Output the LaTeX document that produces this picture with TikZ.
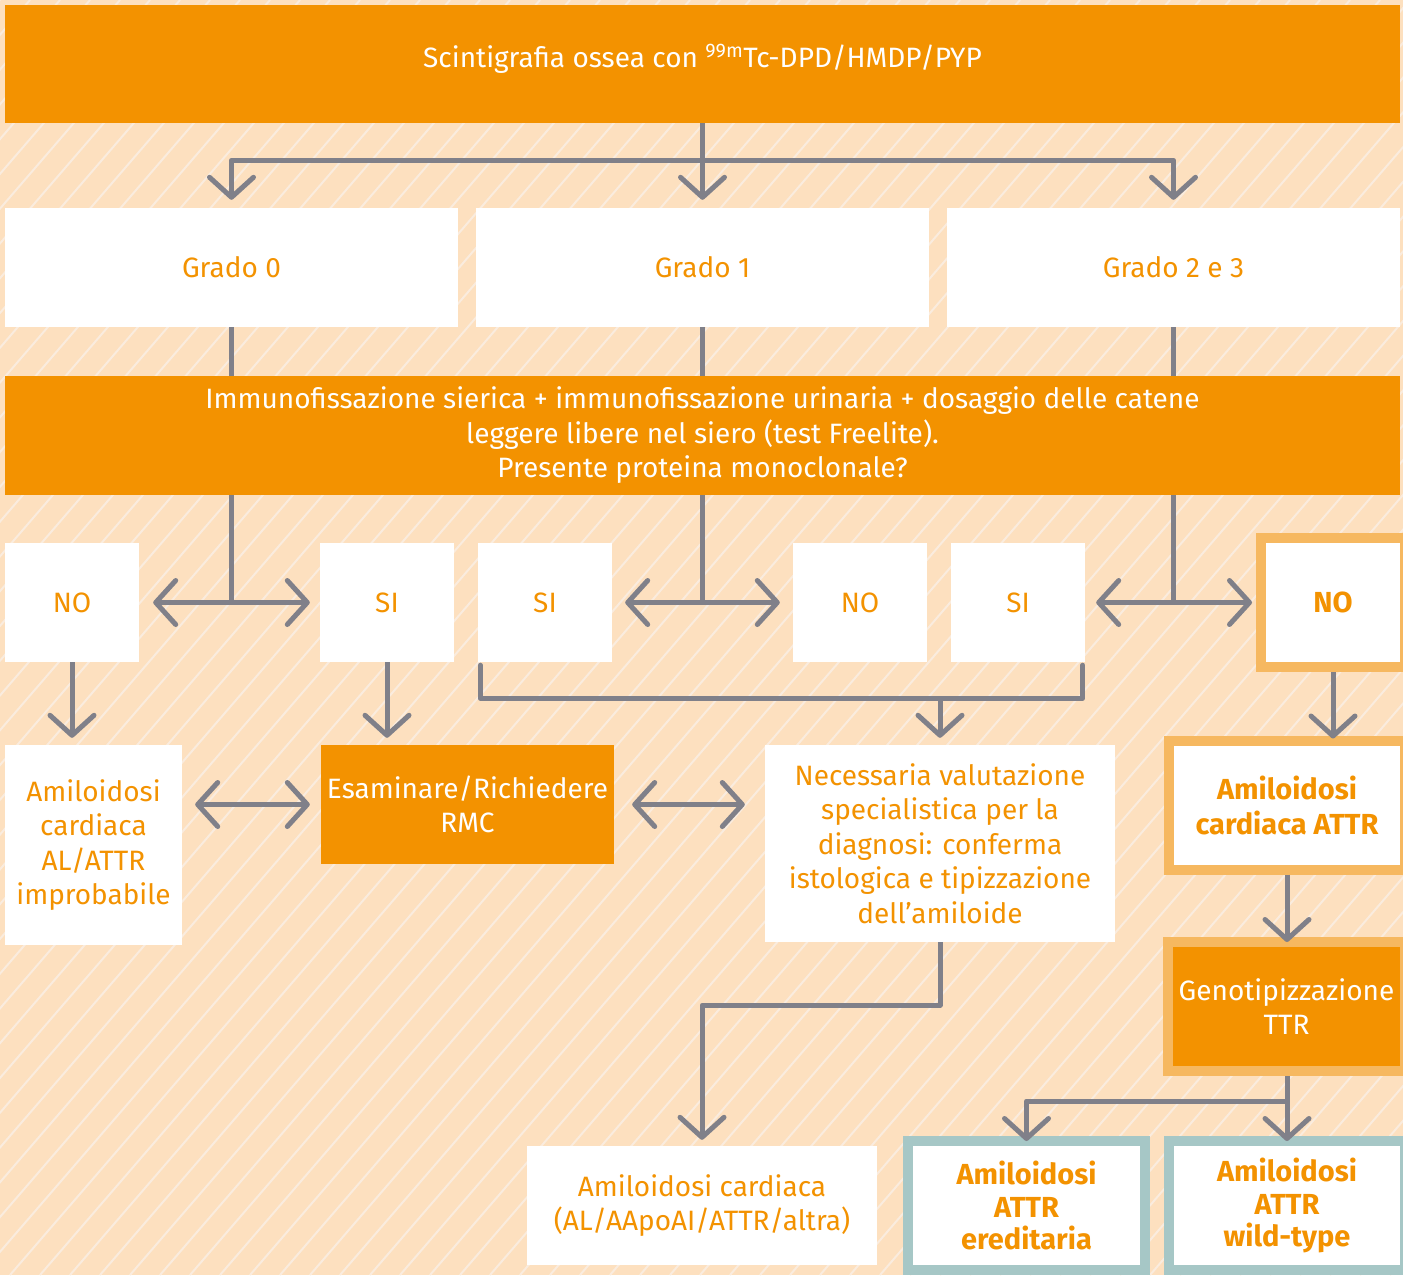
\documentclass[tikz,border=0pt]{standalone}
\usepackage{fontspec}
\setmainfont{Fira Sans}
\usepackage{tikz}
\newcommand{\rowheight}{119pt}
\newcommand{\ringheight}{129pt}
\definecolor{myOrange}{RGB}{243,146,0}
\definecolor{myPeach}{RGB}{253,224,191}
\definecolor{myHatch}{RGB}{250,236,222}
\definecolor{myRing}{RGB}{246,184,96}
\definecolor{myTeal}{RGB}{166,199,198}
\definecolor{myGray}{RGB}{128,128,137}
\usetikzlibrary{arrows.meta,calc,positioning}
\tikzset{
  >={Straight Barb[length=20pt,width=44pt,round]},
  font=\fontsize{28}{34.5}\selectfont,
  obox/.style={fill=myOrange,text=white,align=center,inner sep=0pt,minimum height=\rowheight},
  wbox/.style={fill=white,text=myOrange,align=center,inner sep=0pt,minimum height=\rowheight},
  ring/.style={wbox,draw=myRing,line width=10pt,minimum height=\ringheight,font=\fontsize{29}{35}\selectfont\bfseries},
  tring/.style={ring,draw=myTeal,font=\fontsize{29}{32.5}\selectfont\bfseries},
  line/.style={draw=myGray,line width=5pt,line join=round},
}

\begin{document}
\begin{tikzpicture}[x=1pt,y=-1pt]
  \useasboundingbox (0,0) rectangle (1403,1275);
  % hatched background
  \begin{scope}
    \clip (0,0) rectangle (1403,1275);
    \fill [myPeach] (0,0) rectangle (1403,1275);
    \foreach \i in {-1100,-1070,...,1403}
      \draw [myHatch,line width=2pt] (\i,1275) -- ++(1100,-1275);
  \end{scope}

  \node (top) [obox,minimum width=1395pt,minimum height=118pt] at (702.5,64) {\raisebox{-3pt}[0pt][0pt]{Scintigrafia ossea con \textsuperscript{99m}Tc-DPD/HMDP/PYP}};
  \node (g0) [wbox,minimum width=453pt] at (231.5,267.5) {Grado 0};
  \node (g1) [wbox,minimum width=453pt] at (702.5,267.5) {Grado 1};
  \node (g2) [wbox,minimum width=453pt] at (1173.5,267.5) {Grado 2 e 3};
  \node (imm) [obox,minimum width=1395pt] at (702.5,435.5) {Immunofissazione sierica + immunofissazione urinaria + dosaggio delle catene\\leggere libere nel siero (test Freelite).\\Presente proteina monoclonale?};

  \node (no0) [wbox,minimum width=134pt] at (72,602.5) {NO};
  \node (si0) [wbox,minimum width=134pt] at (387,602.5) {SI};
  \node (si1) [wbox,minimum width=134pt] at (545,602.5) {SI};
  \node (no1) [wbox,minimum width=134pt] at (860,602.5) {NO};
  \node (si2) [wbox,minimum width=134pt] at (1018,602.5) {SI};
  \node (no2) [ring,minimum width=144pt] at (1333,602.5) {NO};

  \node (imp) [wbox,minimum width=177pt,minimum height=200pt] at (93.5,845) {Amiloidosi\\cardiaca\\AL/ATTR\\improbabile};
  \node (rmc) [obox,minimum width=293pt] at (467.5,804.5) {Esaminare/Richiedere\\RMC};
  \node (nec) [wbox,minimum width=350pt,minimum height=197pt] at (940,843.5) {Necessaria valutazione\\specialistica per la\\diagnosi: conferma\\istologica e tipizzazione\\dell’amiloide};
  \node (attr) [ring,minimum width=236pt] at (1287,805) {Amiloidosi\\cardiaca ATTR};
  \node (gen) [ring,fill=myOrange,text=white,minimum width=237pt,font=\fontsize{28}{34.5}\selectfont] at (1286.5,1006.5) {Genotipizzazione\\TTR};

  \node (alt) [wbox,minimum width=350pt] at (702,1205.5) {Amiloidosi cardiaca\\(AL/AApoAI/ATTR/altra)};
  \node (ere) [tring,minimum width=237pt] at (1026.5,1205.5) {Amiloidosi\\ATTR\\ereditaria};
  \node (wil) [tring,minimum width=236pt] at (1287,1205.5) {Amiloidosi\\ATTR\\wild-type};

  % connectors
  \coordinate (s0) at ($(top.south)+(0,37)$);
  \path [line] (top.south) -- (s0);
  \path [line,->,shorten >=8pt] (s0) -| (g0.north);
  \path [line,->,shorten >=8pt] (s0) -- (g1.north);
  \path [line,->,shorten >=8pt] (s0) -| (g2.north);
  \path [line] (g0.south) -- (g0.south |- imm.north);
  \path [line] (g1.south) -- (g1.south |- imm.north);
  \path [line] (g2.south) -- (g2.south |- imm.north);

  \path [line] (g0.south |- imm.south) -- (g0.south |- no0.east);
  \path [line] (g1.south |- imm.south) -- (g1.south |- no0.east);
  \path [line] (g2.south |- imm.south) -- (g2.south |- no0.east);
  \path [line,<->,shorten <=14pt,shorten >=10pt] (no0.east) -- (si0.west);
  \path [line,<->,shorten <=13pt,shorten >=13pt] (si1.east) -- (no1.west);
  \path [line,<->,shorten <=11pt,shorten >=4pt] (si2.east) -- (no2.west);

  \path [line,->,shorten >=7pt] (no0.south) -- (no0.south |- imp.north);
  \path [line,->,shorten >=7pt] (si0.south) -- (si0.south |- rmc.north);
  \path [line,line cap=round] ([xshift=2.5pt,yshift=-3pt]si1.south west) -- ++(0,33) coordinate (br) -| ([xshift=-2.5pt,yshift=-3pt]si2.south east);
  \path [line,->,shorten >=7pt] (nec.north |- br) -- (nec.north);
  \path [line,->,shorten >=-3pt] (no2.south) -- (no2.south |- attr.north);

  \path [line,<->,shorten <=13pt,shorten >=11pt] (rmc.west -| imp.east) -- (rmc.west);
  \path [line,<->,shorten <=18pt,shorten >=20pt] (rmc.east) -- (rmc.east -| nec.west);

  \path [line,->,shorten >=-5pt] (attr.south) -- (gen.north -| attr.south);
  \path [line,->,shorten >=-5pt] (gen.south -| wil.north) -- (wil.north);
  \coordinate (s1) at ($(gen.south -| wil.north)+(0,25)$);
  \path [line,->,shorten >=-5pt] (s1) -| (ere.north);
  \path [line,->,shorten >=6pt] (nec.south) -- ++(0,63) -| (alt.north);
\end{tikzpicture}
\end{document}
